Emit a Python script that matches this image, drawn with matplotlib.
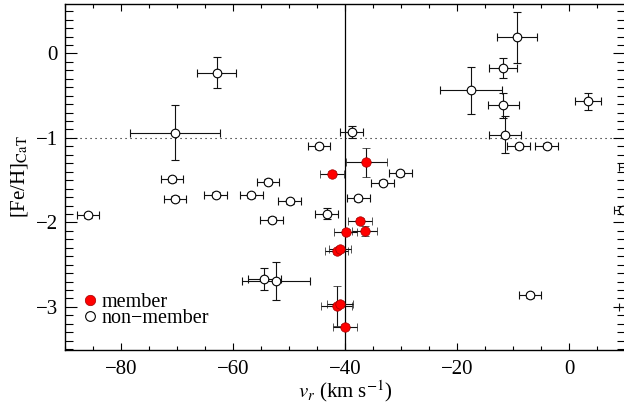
import matplotlib
matplotlib.use("Agg")
import matplotlib.pyplot as plt
from matplotlib.lines import Line2D
from matplotlib.ticker import MultipleLocator

plt.rcParams['font.family'] = ['Liberation Serif', 'DejaVu Serif']
plt.rcParams['mathtext.fontset'] = 'stix'

# Members (red filled)
mem_v = [-42.3, -36.2, -37.3, -39.9, -36.5, -41.5, -40.9, -41.5, -40.9, -40.0]
mem_feh = [-1.426, -1.29, -1.98, -2.11, -2.10, -2.34, -2.32, -2.99, -2.96, -3.237]
mem_verr = [2.1, 3.7, 2.1, 2.0, 2.2, 2.0, 2.0, 2.7, 2.3, 2.1]
mem_feherr = [0.03, 0.17, 0.03, 0.03, 0.06, 0.03, 0.03, 0.24, 0.03, 0.03]

# Non-members (open)
non_v = [-62.9, -70.4, -44.6, -70.9, -53.7, -63.1, -56.7, -70.4, -49.9, -85.9,
         -38.8, -30.1, -33.3, -37.6, -43.3, -53.1, -54.4, -52.3, -7.0, -9.3,
         -11.7, -17.5, -11.7, -11.4, -9.0, -4.0, 3.45, 9.6, 11.0, 11.0]
non_feh = [-0.227, -0.937, -1.10, -1.49, -1.52, -1.67, -1.68, -1.72, -1.75, -1.915,
           -0.93, -1.418, -1.53, -1.715, -1.90, -1.97, -2.672, -2.692, -2.86, 0.192,
           -0.175, -0.436, -0.613, -0.96, -1.10, -1.09, -0.566, -1.85, -1.34, -3.0]
non_verr = [3.5, 8.0, 2.0, 2.0, 2.0, 2.0, 2.0, 2.0, 2.0, 2.0,
            2.1, 2.0, 2.0, 2.0, 2.0, 2.0, 2.9, 6.1, 2.0, 3.6,
            2.5, 5.6, 2.8, 2.8, 2.0, 2.0, 2.3, 1.6, 2.0, 2.0]
non_feherr = [0.18, 0.33, 0.03, 0.03, 0.03, 0.03, 0.03, 0.03, 0.03, 0.03,
              0.07, 0.03, 0.03, 0.03, 0.065, 0.03, 0.13, 0.225, 0.03, 0.30,
              0.12, 0.28, 0.15, 0.22, 0.03, 0.03, 0.10, 0.03, 0.03, 0.03]

v_sys = -40.0
feh_cut = -1.0

fig = plt.figure(figsize=(6.24, 4.07), dpi=100)
ax = fig.add_axes([65/624, 1-350/407, 560/624, 346/407])

ax.axvline(v_sys, color='k', lw=0.9, zorder=1)
ax.axhline(feh_cut, color='k', lw=0.8, ls=(0, (1, 3.5)), zorder=1)

ebkw = dict(ls='none', ecolor='#111111', elinewidth=0.8, capsize=2.6, capthick=0.8)
ax.errorbar(non_v, non_feh, xerr=non_verr, yerr=non_feherr, marker='o', ms=6.2,
            mfc='white', mec='black', mew=0.8, zorder=3, **ebkw)
ax.errorbar(mem_v, mem_feh, xerr=mem_verr, yerr=mem_feherr, marker='o', ms=6.8,
            mfc='red', mec='#a00000', mew=0.5, zorder=4, **ebkw)

ax.set_xlim(-90, 10)
ax.set_ylim(-3.51, 0.585)
ax.xaxis.set_major_locator(MultipleLocator(20))
ax.xaxis.set_minor_locator(MultipleLocator(5))
ax.yaxis.set_major_locator(MultipleLocator(1))
ax.yaxis.set_minor_locator(MultipleLocator(0.1))
ax.tick_params(axis='both', which='both', direction='in', top=True, right=True,
               labelsize=15, width=0.8)
ax.tick_params(axis='x', which='major', length=5, pad=7)
ax.tick_params(axis='x', which='minor', length=2.6)
ax.tick_params(axis='y', which='major', length=8.5, pad=5)
ax.tick_params(axis='y', which='minor', length=5.5)
for s in ax.spines.values():
    s.set_linewidth(1.0)

ax.set_xlabel(r'$v_r$ (km s$^{-1}$)', fontsize=15, labelpad=0)
ax.set_ylabel(r'[Fe/H]$_{\rm CaT}$', fontsize=15, labelpad=4)

handles = [Line2D([], [], ls='none', marker='o', ms=7.5, mfc='red', mec='#a00000', mew=0.5),
           Line2D([], [], ls='none', marker='o', ms=7, mfc='white', mec='black', mew=0.8)]
ax.legend(handles, ['member', 'non\u2212member'], loc='lower left',
          bbox_to_anchor=(0.009, 0.022), frameon=False, fontsize=14.5,
          handlelength=0.6, handletextpad=0.25, labelspacing=-0.12, borderpad=0.2)

fig.savefig('out.png', dpi=100)
